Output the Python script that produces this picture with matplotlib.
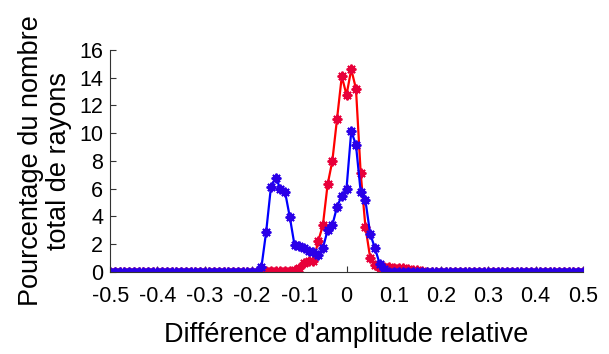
import numpy as np
import matplotlib
matplotlib.use("Agg")
import matplotlib.pyplot as plt

plt.rcParams["font.family"] = ["Liberation Sans", "DejaVu Sans"]

# relative amplitude difference, bins of 0.01 from -0.5 to 0.5
x = np.round(np.arange(-50, 51) / 100.0, 2)

# blue series: non-zero part between -0.18 and 0.08
blue_x = [-0.18, -0.17, -0.16, -0.15, -0.14, -0.13, -0.12, -0.11, -0.10, -0.09,
          -0.08, -0.07, -0.06, -0.05, -0.04, -0.03, -0.02, -0.01, 0.00, 0.01,
          0.02, 0.03, 0.04, 0.05, 0.06, 0.07, 0.08]
blue_y = [0.36, 2.9, 6.1, 6.8, 6.0, 5.75, 3.95, 1.92, 1.9, 1.72,
          1.5, 1.4, 1.25, 1.72, 3.0, 3.37, 4.7, 5.5, 6.0, 10.15,
          9.15, 5.75, 5.15, 2.75, 1.72, 0.6, 0.22]

# red series: non-zero part between -0.18 and 0.16
red_x = [-0.18, -0.17, -0.16, -0.15, -0.14, -0.13, -0.12, -0.11, -0.10, -0.09,
         -0.08, -0.07, -0.06, -0.05, -0.04, -0.03, -0.02, -0.01, 0.00, 0.01,
         0.02, 0.03, 0.04, 0.05, 0.06, 0.07, 0.08, 0.09, 0.10, 0.11,
         0.12, 0.13, 0.14, 0.15, 0.16]
red_y = [0.03, 0.03, 0.03, 0.04, 0.05, 0.06, 0.08, 0.15, 0.25, 0.65,
         0.8, 0.8, 2.2, 3.37, 6.3, 8.0, 11.05, 14.1, 12.75, 14.6,
         13.2, 7.1, 3.25, 1.03, 0.48, 0.24, 0.35, 0.35, 0.3, 0.3,
         0.25, 0.2, 0.15, 0.1, 0.05]

blue = np.zeros_like(x)
red = np.zeros_like(x)
for xi, yi in zip(blue_x, blue_y):
    blue[np.isclose(x, xi)] = yi
for xi, yi in zip(red_x, red_y):
    red[np.isclose(x, xi)] = yi

fig = plt.figure(figsize=(6.09, 3.54), dpi=100)
ax = fig.add_axes([0.181, 0.232, 0.776, 0.627])

# 8-armed asterisk markers
star = (8, 2, 0)
ax.plot(x, red, color="#ff0000", lw=1.6, marker=star, ms=7,
        mec="#e8003a", mew=1.4)
ax.plot(x, blue, color="#0000ff", lw=1.6, marker=star, ms=7,
        mec="#2a00e8", mew=1.4)

ax.set_xlim(-0.5, 0.5)
ax.set_ylim(0, 16)
ax.set_xticks(np.round(np.arange(-5, 6) / 10.0, 1))
ax.set_xticklabels(["-0.5", "-0.4", "-0.3", "-0.2", "-0.1", "0",
                    "0.1", "0.2", "0.3", "0.4", "0.5"])
ax.set_yticks(range(0, 17, 2))

ax.spines["top"].set_visible(False)
ax.spines["right"].set_visible(False)
ax.spines["left"].set_color("#333333")
ax.spines["bottom"].set_color("#333333")
ax.tick_params(direction="in", length=4, width=0.8, colors="#333333",
               labelcolor="black", labelsize=15.5)
ax.tick_params(axis="x", pad=10)
ax.tick_params(axis="y", pad=5)

ax.set_xlabel("Différence d'amplitude relative", fontsize=19.5, labelpad=11)
ax.set_ylabel("Pourcentage du nombre\ntotal de rayons", fontsize=19.5,
              labelpad=5, linespacing=1.1)

fig.savefig("out.png", dpi=100)
